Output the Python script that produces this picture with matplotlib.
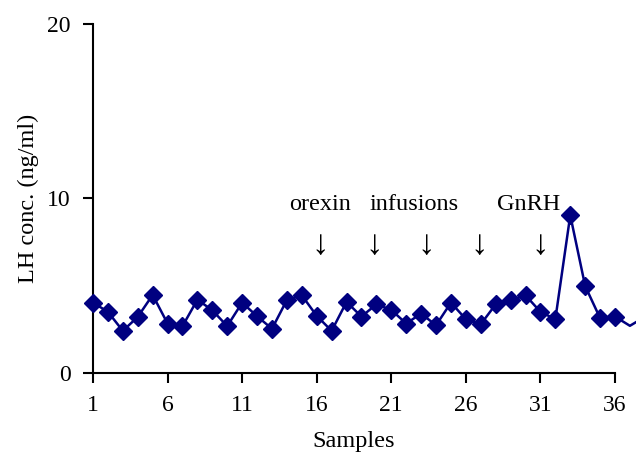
import matplotlib
matplotlib.use("Agg")
import matplotlib.pyplot as plt

# --- data ---
samples = list(range(1, 37))
lh = [4.02, 3.49, 2.40, 3.20, 4.46, 2.82, 2.67, 4.19, 3.58, 2.67,
      4.02, 3.24, 2.52, 4.17, 4.44, 3.26, 2.40, 4.06, 3.22, 3.92,
      3.60, 2.82, 3.39, 2.72, 4.02, 3.07, 2.78, 3.92, 4.15, 4.44,
      3.49, 3.07, 9.03, 4.97, 3.13, 3.22]
# line runs on past the plot area without markers
tail_x = [36, 37, 38]
tail_y = [3.22, 2.69, 3.20]

xticks = [1, 6, 11, 16, 21, 26, 31, 36]
yticks = [0, 10, 20]

labels = ["orexin", "infusions", "GnRH"]
label_x = [16.23, 22.5, 30.2]
label_y = 9.35
arrow_x = [16.2, 19.85, 23.3, 26.9, 30.95]
arrow_y = 7.27

plt.rcParams['font.family'] = ['Liberation Serif', 'DejaVu Serif']
navy = "#000080"

fig = plt.figure(figsize=(6.36, 4.53), dpi=100)
ax = fig.add_axes([93 / 636, 1 - 372.7 / 453, (615 - 93) / 636, (372.7 - 24) / 453])

ax.plot(tail_x, tail_y, color=navy, lw=1.8, clip_on=False, zorder=2)
ax.plot(samples, lh, color=navy, lw=1.8, marker="D", ms=8.8,
        mfc=navy, mec=navy, clip_on=False, zorder=3)

for t, x in zip(labels, label_x):
    ax.text(x, label_y, t, ha="center", va="baseline", fontsize=17.5)
for x in arrow_x:
    ax.text(x, arrow_y, "\u2193", ha="center", va="center", fontsize=25)

ax.set_xlim(1, 36)
ax.set_ylim(0, 20)
ax.set_xticks(xticks)
ax.set_yticks(yticks)
ax.tick_params(direction="out", length=7, width=1.5, labelsize=17, pad=9)
for s in ["top", "right"]:
    ax.spines[s].set_visible(False)
for s in ["left", "bottom"]:
    ax.spines[s].set_linewidth(1.5)

ax.set_xlabel("Samples", fontsize=17.5, labelpad=11)
ax.set_ylabel("LH conc. (ng/ml)", fontsize=17.5, labelpad=6)

fig.savefig("out.png", dpi=100)
